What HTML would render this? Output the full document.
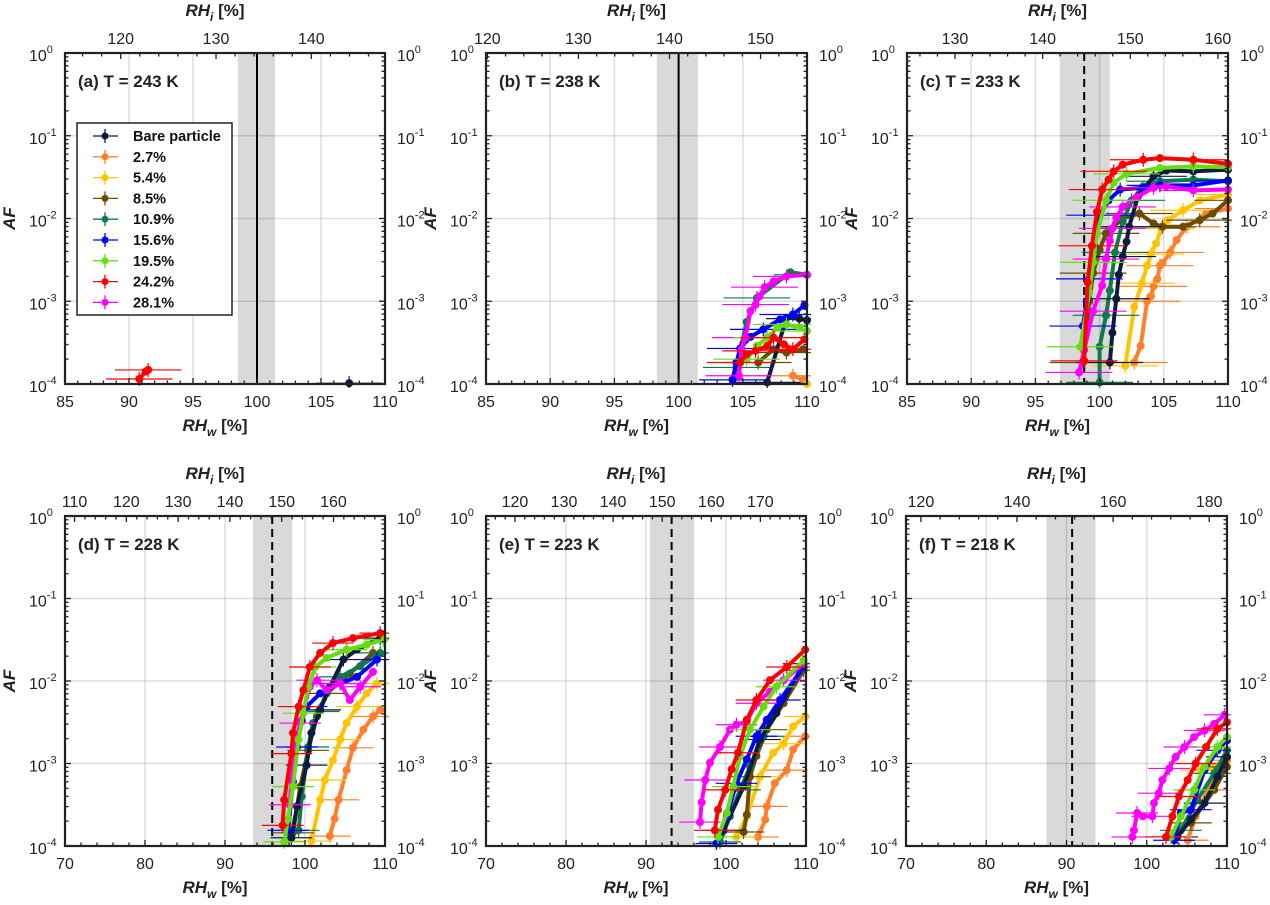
<!DOCTYPE html>
<html><head><meta charset="utf-8">
<style>
html,body{margin:0;padding:0;background:#fff;}
svg{display:block;font-family:"Liberation Sans",sans-serif;}
.tk{font-size:16px;fill:#222;}
.ytk{font-size:16px;fill:#222;}
.ttl{font-size:17px;font-weight:bold;fill:#222;}
</style></head>
<body>
<svg id="fig" width="1270" height="905" viewBox="0 0 1270 905" xmlns="http://www.w3.org/2000/svg"></svg>
<script>
// ---- Data: [RHw %, log10(AF)] per series per panel ----
const a_red = [[90.8,-3.94],[91.3,-3.85],[91.5,-3.83]];
const a_bare = [[107.2,-3.99]];

const b_magenta = [[104.7,-3.9],[104.9,-3.58],[105.2,-3.44],[105.6,-3.12],[106.0,-3.04],[106.3,-2.94],[106.7,-2.83],[107.4,-2.76],[108.4,-2.7],[110,-2.68]];
const b_dgreen = [[104.5,-3.8],[105.3,-3.25],[106.1,-2.96],[108.7,-2.65],[110,-2.68]];
const b_blue = [[104.2,-3.95],[104.5,-3.74],[104.8,-3.57],[105.6,-3.43],[106.6,-3.34],[107.9,-3.22],[108.9,-3.16],[109.8,-3.05]];
const b_bare = [[106.9,-3.98],[108.4,-3.2],[109.4,-3.21],[110,-3.23]];
const b_lime = [[105.3,-3.7],[106.1,-3.54],[106.9,-3.44],[107.7,-3.32],[108.4,-3.28],[109.4,-3.32],[110,-3.36]];
const b_red = [[104.8,-3.74],[105.3,-3.64],[106.0,-3.6],[106.9,-3.54],[107.4,-3.44],[108.2,-3.52],[108.9,-3.58],[109.8,-3.46]];
const b_brown = [[106.2,-3.74],[107.4,-3.58],[108.4,-3.62],[109.7,-3.58]];
const b_orange = [[108.9,-3.9],[109.7,-3.95]];
const b_yellow = [[110,-4.0]];

const c_red = [[98.8,-3.72],[99.07,-2.77],[99.4,-2.33],[99.8,-1.92],[100.2,-1.65],[100.7,-1.53],[101.1,-1.43],[101.8,-1.35],[103.4,-1.29],[104.7,-1.27],[107.3,-1.29],[110,-1.34]];
const c_lime = [[98.5,-3.55],[99.2,-2.9],[99.5,-2.53],[99.8,-2.18],[100.5,-1.78],[101.1,-1.57],[102.1,-1.46],[104.7,-1.39],[107.3,-1.37],[110,-1.38]];
const c_blue = [[98.7,-3.3],[99.0,-3.0],[99.2,-2.73],[99.6,-2.33],[100.0,-1.96],[100.7,-1.78],[101.6,-1.65],[103.4,-1.63],[104.7,-1.6],[107.3,-1.6],[110,-1.54]];
const c_dgreen = [[100.0,-3.98],[100.0,-3.55],[100.5,-3.17],[100.8,-2.87],[101.2,-2.41],[101.8,-2.04],[102.5,-1.78],[103.4,-1.61],[104.7,-1.55],[107.3,-1.53],[110,-1.55]];
const c_bare = [[100.8,-3.74],[101.0,-3.38],[101.3,-2.97],[101.5,-2.68],[101.8,-2.46],[102.1,-2.28],[102.3,-2.1],[103.0,-1.73],[104.2,-1.49],[105.2,-1.42],[107.3,-1.43],[110,-1.41]];
const c_magenta = [[98.4,-3.86],[98.8,-3.59],[99.5,-3.12],[100.2,-2.81],[100.5,-2.49],[100.8,-2.27],[101.0,-2.12],[101.3,-1.99],[101.8,-1.86],[102.9,-1.74],[104.2,-1.63],[105.2,-1.61],[107.3,-1.66],[110,-1.65]];
const c_brown = [[98.7,-3.74],[99.2,-3.0],[99.5,-2.66],[100.0,-2.38],[100.5,-2.18],[101.8,-2.0],[103.1,-1.94],[104.2,-2.06],[104.9,-2.1],[106.5,-2.1],[107.8,-2.02],[108.8,-1.94],[110,-1.78]];
const c_yellow = [[102.0,-3.78],[102.7,-3.07],[103.3,-2.78],[103.7,-2.57],[104.0,-2.43],[104.4,-2.3],[104.8,-2.12],[105.3,-2.02],[106.5,-1.9],[107.8,-1.78],[110,-1.71]];
const c_orange = [[102.7,-3.74],[103.2,-3.54],[103.7,-3.0],[104.0,-2.94],[104.2,-2.82],[104.5,-2.73],[104.7,-2.57],[104.9,-2.54],[105.5,-2.41],[106.0,-2.26],[106.8,-2.1],[108.3,-1.94],[110,-1.88]];

const d_red = [[97.2,-3.75],[97.4,-3.44],[98.3,-2.88],[98.5,-2.63],[99.2,-2.31],[99.8,-2.11],[100.6,-1.83],[101.9,-1.66],[103.5,-1.54],[106.0,-1.48],[109.4,-1.42]];
const d_lime = [[97.4,-3.95],[97.9,-3.67],[98.5,-3.28],[99.2,-2.71],[99.8,-2.39],[100.4,-2.07],[101.3,-1.83],[102.7,-1.72],[105.2,-1.62],[107.7,-1.56],[109.8,-1.5]];
const d_blue = [[97.9,-3.81],[98.5,-3.22],[99.0,-2.8],[99.6,-2.48],[100.2,-2.31],[101.9,-2.15],[104.4,-2.03],[106.5,-1.95],[109.0,-1.74]];
const d_dgreen = [[99.2,-3.81],[99.6,-3.4],[100.4,-2.8],[101.0,-2.51],[101.7,-2.37],[102.7,-2.15],[104.4,-1.95],[106.9,-1.82],[109.4,-1.66]];
const d_bare = [[98.3,-3.9],[99.0,-3.52],[100.2,-3.02],[100.8,-2.63],[101.9,-2.35],[103.1,-2.07],[104.8,-1.74],[106.5,-1.62],[109.4,-1.48]];
const d_magenta = [[98.1,-3.5],[98.5,-2.88],[99.4,-2.51],[100.6,-2.07],[101.5,-1.99],[102.7,-2.11],[104.4,-2.03],[105.6,-2.23],[106.9,-2.07],[108.5,-1.89]];
const d_brown = [[98.5,-3.84],[99.4,-3.28],[100.4,-2.84],[101.5,-2.43],[102.7,-2.15],[105.6,-1.91],[108.5,-1.66]];
const d_yellow = [[100.8,-3.94],[101.9,-3.44],[102.5,-3.2],[103.5,-2.96],[104.4,-2.71],[105.2,-2.51],[106.5,-2.31],[107.7,-2.15],[109.0,-2.03]];
const d_orange = [[103.1,-3.88],[103.7,-3.67],[104.2,-3.44],[105.2,-3.08],[106.0,-2.81],[107.3,-2.59],[108.5,-2.43],[109.4,-2.35]];

const e_magenta = [[96.75,-3.71],[96.96,-3.47],[97.4,-3.2],[98.0,-2.99],[99.25,-2.8],[100.5,-2.59],[101.3,-2.53],[102.6,-2.49],[103.8,-2.27],[105.5,-2.13],[107.2,-1.99],[109.7,-1.79]];
const e_red = [[98.6,-3.81],[99.0,-3.56],[99.9,-3.32],[100.7,-3.07],[101.5,-2.87],[102.6,-2.47],[103.8,-2.23],[105.5,-1.99],[107.6,-1.83],[109.9,-1.62]];
const e_lime = [[99.0,-3.89],[100.1,-3.6],[100.9,-3.28],[101.75,-2.91],[103.0,-2.59],[104.7,-2.31],[106.3,-2.07],[109.7,-1.75]];
const e_blue = [[98.8,-3.97],[100.1,-3.64],[101.3,-3.24],[102.6,-2.95],[103.8,-2.67],[105.1,-2.47],[106.75,-2.23],[109.7,-1.83]];
const e_dgreen = [[99.25,-3.95],[100.5,-3.64],[101.75,-3.32],[103.0,-3.04],[104.7,-2.67],[106.3,-2.35],[109.7,-1.83]];
const e_bare = [[99.7,-3.81],[102.2,-3.28],[104.25,-2.71],[106.3,-2.39],[109.7,-1.79]];
const e_brown = [[102.2,-3.83],[102.6,-3.62],[103.0,-3.16],[103.8,-2.91],[105.1,-2.59],[107.2,-2.27],[109.7,-1.87]];
const e_yellow = [[101.3,-3.89],[102.6,-3.64],[104.25,-3.16],[105.9,-2.87],[107.2,-2.76],[108.4,-2.55],[109.9,-2.43]];
const e_orange = [[104.0,-3.89],[104.9,-3.68],[105.1,-3.52],[106.1,-3.24],[107.6,-3.08],[108.4,-2.83],[109.9,-2.67]];

const f_magenta = [[98.2,-3.89],[98.4,-3.81],[98.8,-3.6],[99.5,-3.64],[100.7,-3.64],[100.9,-3.48],[101.5,-3.36],[101.95,-3.2],[102.8,-3.06],[103.6,-2.92],[104.7,-2.8],[105.9,-2.68],[107.2,-2.6],[108.4,-2.52],[109.7,-2.41]];
const f_red = [[102.4,-3.89],[103.2,-3.64],[104.0,-3.4],[105.1,-3.2],[106.1,-3.0],[107.4,-2.8],[108.8,-2.58],[110,-2.5]];
const f_lime = [[103.0,-3.89],[104.25,-3.64],[105.9,-3.32],[107.2,-3.04],[108.8,-2.8],[110,-2.68]];
const f_blue = [[103.4,-3.93],[104.25,-3.6],[105.5,-3.56],[107.2,-3.08],[108.8,-2.84],[110,-2.72]];
const f_orange = [[105.1,-3.93],[106.1,-3.64],[107.6,-3.32],[108.4,-3.12],[110,-2.96]];
const f_dgreen = [[104.25,-3.81],[106.3,-3.44],[108.4,-3.12],[110,-2.84]];
const f_bare = [[103.8,-3.89],[105.5,-3.68],[107.2,-3.48],[108.8,-3.16],[110,-2.92]];
const f_yellow = [[106.75,-3.08],[108.4,-3.04],[110,-2.92]];
const f_brown = [[105.5,-3.72],[108.4,-3.32],[110,-3.04]];

const seriesLabels = ["Bare particle","2.7%","5.4%","8.5%","10.9%","15.6%","19.5%","24.2%","28.1%"];
const seriesKeys = ["bare","orange","yellow","brown","dgreen","blue","lime","red","magenta"];
const seriesColors = {bare:"#0d1b3e",orange:"#ff7f2a",yellow:"#ffc400",brown:"#6b4b00",dgreen:"#0f7a4e",blue:"#0000ff",lime:"#66dd11",red:"#ff0000",magenta:"#ff00ff"};
const drawOrder = ["orange","yellow","brown","dgreen","bare","blue","magenta","lime","red"];

const panelData = {
  a:{red:a_red,bare:a_bare},
  b:{magenta:b_magenta,dgreen:b_dgreen,blue:b_blue,bare:b_bare,lime:b_lime,red:b_red,brown:b_brown,orange:b_orange,yellow:b_yellow},
  c:{red:c_red,lime:c_lime,blue:c_blue,dgreen:c_dgreen,bare:c_bare,magenta:c_magenta,brown:c_brown,yellow:c_yellow,orange:c_orange},
  d:{red:d_red,lime:d_lime,blue:d_blue,dgreen:d_dgreen,bare:d_bare,magenta:d_magenta,brown:d_brown,yellow:d_yellow,orange:d_orange},
  e:{magenta:e_magenta,red:e_red,lime:e_lime,blue:e_blue,dgreen:e_dgreen,bare:e_bare,brown:e_brown,yellow:e_yellow,orange:e_orange},
  f:{magenta:f_magenta,red:f_red,lime:f_lime,blue:f_blue,orange:f_orange,dgreen:f_dgreen,bare:f_bare,yellow:f_yellow,brown:f_brown}
};

const panelTitles = {a:"(a) T = 243 K",b:"(b) T = 238 K",c:"(c) T = 233 K",d:"(d) T = 228 K",e:"(e) T = 223 K",f:"(f) T = 218 K"};
const iceRatio = {a:1.343,b:1.41,c:1.465,d:1.545,e:1.63,f:1.67};
const bandLo = {a:98.5,b:98.3,c:96.9,d:93.5,e:90.5,f:87.5};
const bandHi = {a:101.4,b:101.5,c:100.8,d:98.4,e:96.0,f:93.6};
const onsetLine = {a:100,b:100,c:98.8,d:95.9,e:93.2,f:90.7};
const onsetDashed = {a:false,b:false,c:true,d:true,e:true,f:true};
const xTicksTop = [85,90,95,100,105,110];
const xTicksBot = [70,80,90,100,110];
const yTickExp = [0,-1,-2,-3,-4];

const layout = {
  a:{L:65,T:53,W:320,H:331,x0:85,x1:110,minor:1,xt:xTicksTop,rstep:10},
  b:{L:486,T:53,W:321,H:331,x0:85,x1:110,minor:1,xt:xTicksTop,rstep:10},
  c:{L:907,T:53,W:321,H:331,x0:85,x1:110,minor:1,xt:xTicksTop,rstep:10},
  d:{L:65,T:516,W:320,H:330,x0:70,x1:110,minor:2,xt:xTicksBot,rstep:10},
  e:{L:486,T:516,W:320,H:330,x0:70,x1:110,minor:2,xt:xTicksBot,rstep:10},
  f:{L:906,T:516,W:321,H:330,x0:70,x1:110,minor:2,xt:xTicksBot,rstep:20}
};

const NS="http://www.w3.org/2000/svg";
const svg=document.getElementById('fig');
function mk(tag,attrs,parent){const e=document.createElementNS(NS,tag);for(const k in attrs)e.setAttribute(k,attrs[k]);(parent||svg).appendChild(e);return e;}

const defs=mk('defs',{});
for(const p in layout){
  const g=layout[p];
  const sx=v=>g.L+(v-g.x0)/(g.x1-g.x0)*g.W;
  const sy=lv=>g.T+(-lv)/4*g.H;
  const grp=mk('g',{});
  
  
  const cp=mk('clipPath',{id:'clip'+p},defs);
  mk('rect',{x:g.L,y:g.T-4,width:g.W+4,height:g.H+8},cp);
  const band=mk('rect',{x:sx(bandLo[p]),y:g.T,width:sx(bandHi[p])-sx(bandLo[p]),height:g.H,fill:"#d9d9d9"},grp);
  
  
  g.xt.forEach(v=>{if(v>g.x0&&v<g.x1){const l=mk('line',{x1:sx(v),x2:sx(v),y1:g.T,y2:g.T+g.H,stroke:"#000",'stroke-opacity':0.13,'stroke-width':1.5},grp);}});
  yTickExp.forEach(e=>{if(e<0&&e>-4){const l=mk('line',{x1:g.L,x2:g.L+g.W,y1:sy(e),y2:sy(e),stroke:"#000",'stroke-opacity':0.13,'stroke-width':1.5},grp);}});
  const ol=mk('line',{x1:sx(onsetLine[p]),x2:sx(onsetLine[p]),y1:g.T,y2:g.T+g.H,stroke:"#000",'stroke-width':2},grp);
  if(onsetDashed[p]) ol.setAttribute('stroke-dasharray','8,5');
  
  
  const sg=mk('g',{'clip-path':'url(#clip'+p+')'},grp);
  drawOrder.forEach(k=>{
    const d=panelData[p][k]; if(!d) return;
    const col=seriesColors[k];
    const s=mk('g',{},sg);
    
    
    d.forEach((pt,i)=>{ if(i%2===0){
      const eb=mk('line',{x1:sx(pt[0]-2.6),x2:sx(pt[0]+2.6),y1:sy(pt[1]),y2:sy(pt[1]),stroke:col,'stroke-width':1.2},s);
      
      
      const ev=mk('line',{x1:sx(pt[0]),x2:sx(pt[0]),y1:sy(pt[1])-7,y2:sy(pt[1])+7,stroke:col,'stroke-width':1.2},s);
      
      
    }});
    if(d.length>1){
      const pl=mk('polyline',{points:d.map(pt=>sx(pt[0])+','+sy(pt[1])).join(' '),fill:'none',stroke:col,'stroke-width':4,'stroke-linejoin':'round','stroke-linecap':'round'},s);
      
      
    }
    d.forEach(pt=>{
      const c=mk('circle',{cx:sx(pt[0]),cy:sy(pt[1]),r:4,fill:col},s);
      
      
    });
  });
  const tk=mk('g',{stroke:'#222','stroke-width':1.3},grp);
  for(let v=g.x0;v<=g.x1+1e-9;v+=g.minor){
    const maj=g.xt.indexOf(v)>=0; const len=maj?6:3.5;
    mk('line',{x1:sx(v),x2:sx(v),y1:g.T+g.H,y2:g.T+g.H-len},tk);
  }
  for(let e=0;e>-4;e--){for(let m=1;m<10;m++){const lv=e-1+Math.log10(m);const len=m===1?6:3.5;
    mk('line',{x1:g.L,x2:g.L+len,y1:sy(lv),y2:sy(lv)},tk);mk('line',{x1:g.L+g.W,x2:g.L+g.W-len,y1:sy(lv),y2:sy(lv)},tk);}}
  const k=iceRatio[p];
  const rmin=g.x0*k, rmax=g.x1*k, mstep=g.rstep/5;
  for(let r=Math.ceil(rmin/mstep-1e-6)*mstep;r<=rmax;r+=mstep){
    const x=sx(r/k); const maj=Math.abs(r/g.rstep-Math.round(r/g.rstep))<1e-6;
    mk('line',{x1:x,x2:x,y1:g.T,y2:g.T+(maj?6:3.5)},tk);
    if(maj){const t=mk('text',{x:x,y:g.T-9,'text-anchor':'middle',class:'tk'},grp);t.textContent=Math.round(r);
      }
  }
  const fr=mk('rect',{x:g.L,y:g.T,width:g.W,height:g.H,fill:'none',stroke:'#222','stroke-width':2.2},grp);
  
  
  g.xt.forEach(v=>{const t=mk('text',{x:sx(v),y:g.T+g.H+23,'text-anchor':'middle',class:'tk'},grp);t.textContent=v;
    });
  yTickExp.forEach(e=>{
    [[g.L-36,'start'],[g.L+g.W+12,'start']].forEach(([xx,an])=>{
      const t=mk('text',{x:xx,y:sy(e)+8,'text-anchor':an,class:'ytk'},grp);
      const b=mk('tspan',{},t);b.textContent='10';
      const sup=mk('tspan',{dy:-8,'font-size':'11px'},t);sup.textContent=e;
      
    });
  });
  const xt=mk('text',{x:g.L+g.W/2-10,y:g.T+g.H+47,'text-anchor':'middle',class:'ttl'},grp);
  xt.innerHTML='<tspan font-style="italic">RH</tspan><tspan font-style="italic" font-size="12px" dy="5">w</tspan><tspan dy="-5"> [%]</tspan>';
  
  const tt=mk('text',{x:g.L+g.W/2-10,y:g.T-37,'text-anchor':'middle',class:'ttl'},grp);
  tt.innerHTML='<tspan font-style="italic">RH</tspan><tspan font-style="italic" font-size="12px" dy="5">i</tspan><tspan dy="-5"> [%]</tspan>';
  
  const yx=g.L-50;
  const yt=mk('text',{x:yx,y:g.T+g.H/2,'text-anchor':'middle',class:'ttl','font-style':'italic',transform:'rotate(-90 '+yx+' '+(g.T+g.H/2)+')'},grp);
  yt.textContent='AF';
  
  const pt=mk('text',{x:g.L+13,y:g.T+34,class:'ttl'},grp);
  pt.textContent=panelTitles[p];
  
}
const lg=mk('g',{});


mk('rect',{x:77,y:123,width:155,height:192,fill:'#fff',stroke:'#222','stroke-width':1.5},lg);
seriesLabels.forEach((lab,i)=>{
  const y=136+i*20.8;const col=seriesColors[seriesKeys[i]];
  const e=mk('g',{},lg);
  
  
  mk('line',{x1:93,x2:118,y1:y,y2:y,stroke:col,'stroke-width':1.3},e);
  mk('line',{x1:105,x2:105,y1:y-7,y2:y+7,stroke:col,'stroke-width':1.3},e);
  mk('circle',{cx:105,cy:y,r:3.5,fill:col},e);
  const t=mk('text',{x:133,y:y+5,'font-size':'14.5px','font-weight':'bold',fill:'#111'},e);t.textContent=lab;
});
</script>
</body></html>
